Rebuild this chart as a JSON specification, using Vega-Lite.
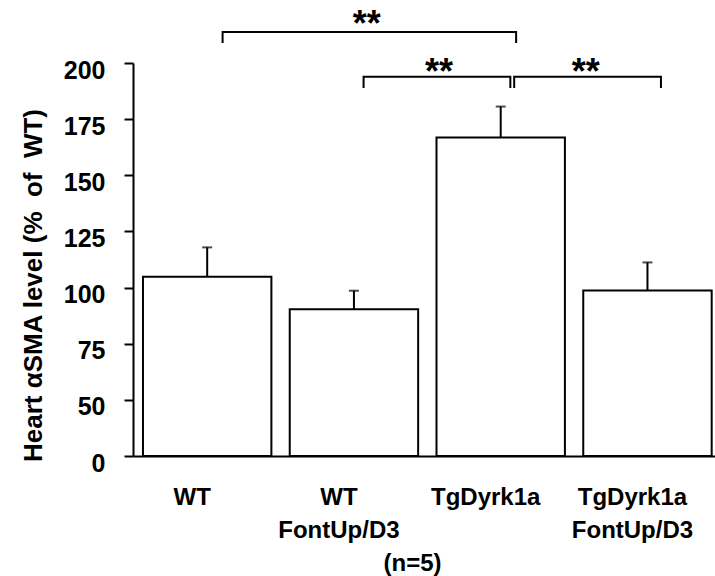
{
  "$schema": "https://vega.github.io/schema/vega-lite/v6.json",
  "autosize": {"type": "none"},
  "padding": {"left": 133, "top": 63, "right": 0, "bottom": 120},
  "width": 582,
  "height": 393,
  "background": "white",
  "config": {
    "view": {"stroke": null},
    "font": "Liberation Sans",
    "axis": {"labelFont": "Liberation Sans", "titleFont": "Liberation Sans"}
  },
  "datasets": {
    "bars": [
      {"group": "WT", "value": 104.8, "sem": 13.1},
      {"group": "WT FontUp/D3", "value": 90.4, "sem": 8.2},
      {"group": "TgDyrk1a", "value": 166.8, "sem": 13.8},
      {"group": "TgDyrk1a FontUp/D3", "value": 98.7, "sem": 12.5}
    ],
    "brackets": [
      {"b": "b1", "group": "WT", "y": 208.9, "o": 1},
      {"b": "b1", "group": "WT", "y": 213.8, "o": 2},
      {"b": "b1", "group": "TgDyrk1a", "y": 213.8, "o": 3},
      {"b": "b1", "group": "TgDyrk1a", "y": 208.9, "o": 4},
      {"b": "b2", "group": "WT FontUp/D3", "y": 188.9, "o": 1},
      {"b": "b2", "group": "WT FontUp/D3", "y": 193.9, "o": 2},
      {"b": "b2", "group": "TgDyrk1a", "y": 193.9, "o": 3},
      {"b": "b2", "group": "TgDyrk1a", "y": 188.9, "o": 4},
      {"b": "b3", "group": "TgDyrk1a", "y": 188.9, "o": 1},
      {"b": "b3", "group": "TgDyrk1a", "y": 193.9, "o": 2},
      {"b": "b3", "group": "TgDyrk1a FontUp/D3", "y": 193.9, "o": 3},
      {"b": "b3", "group": "TgDyrk1a FontUp/D3", "y": 188.9, "o": 4}
    ],
    "stars": [
      {"b": "b1", "group": "WT FontUp/D3", "y": 219.8, "label": "**"},
      {"b": "b2", "group": "TgDyrk1a", "y": 198.7, "label": "**"},
      {"b": "b3", "group": "TgDyrk1a FontUp/D3", "y": 198.7, "label": "**"}
    ]
  },
  "encoding": {
    "x": {
      "field": "group",
      "type": "nominal",
      "sort": ["WT", "WT FontUp/D3", "TgDyrk1a", "TgDyrk1a FontUp/D3"],
      "scale": {"paddingInner": 0.125, "paddingOuter": 0.0453, "align": 0.75},
      "axis": {
        "title": "(n=5)",
        "titleFontSize": 24,
        "titleFontWeight": "bold",
        "titleColor": "black",
        "titleX": 279,
        "titleY": 107,
        "titleBaseline": "middle",
        "titleAlign": "center",
        "labelExpr": "split(datum.label, ' ')",
        "labelAngle": 0,
        "labelFontSize": 24,
        "labelFontWeight": "bold",
        "labelColor": "black",
        "labelLineHeight": 33,
        "labelPadding": 29,
        "labelOffset": -15,
        "labelBaseline": "top",
        "labelOverlap": false,
        "ticks": false,
        "domainColor": "black",
        "domainWidth": 2
      }
    }
  },
  "layer": [
    {
      "data": {"name": "bars"},
      "mark": {
        "type": "errorbar",
        "color": "black",
        "ticks": {"size": 10, "thickness": 2, "color": "black"},
        "rule": {"strokeWidth": 2, "color": "black"}
      },
      "encoding": {
        "y": {
          "field": "value",
          "type": "quantitative",
          "scale": {"domain": [25, 200], "zero": false, "nice": false},
          "axis": {
            "title": "Heart αSMA level (% \u00a0of \u00a0WT)",
            "titleFontSize": 26,
            "titleFontWeight": "bold",
            "titleColor": "black",
            "titleX": -100,
            "titleY": 222,
            "titleAngle": -90,
            "titleAlign": "center",
            "titleBaseline": "middle",
            "values": [25, 50, 75, 100, 125, 150, 175, 200],
            "labelExpr": "datum.value == 25 ? '0' : datum.label",
            "labelFontSize": 25,
            "labelFontWeight": "bold",
            "labelColor": "black",
            "labelPadding": 19,
            "labelOffset": 7,
            "tickSize": 9,
            "tickWidth": 2,
            "tickColor": "black",
            "domainColor": "black",
            "domainWidth": 2,
            "grid": false
          }
        },
        "yError": {"field": "sem"}
      }
    },
    {
      "data": {"name": "bars"},
      "mark": {"type": "bar", "fill": "white", "stroke": "black", "strokeWidth": 2},
      "encoding": {
        "y": {"field": "value", "type": "quantitative"},
        "y2": {"datum": 25}
      }
    },
    {
      "data": {"name": "brackets"},
      "transform": [{"filter": "datum.b == 'b1'"}],
      "mark": {"type": "line", "color": "black", "strokeWidth": 2},
      "encoding": {
        "x": {"field": "group", "type": "nominal", "bandPosition": 0.62, "sort": ["WT", "WT FontUp/D3", "TgDyrk1a", "TgDyrk1a FontUp/D3"]},
        "y": {"field": "y", "type": "quantitative"},
        "order": {"field": "o"}
      }
    },
    {
      "data": {"name": "brackets"},
      "transform": [{"filter": "datum.b == 'b2'"}],
      "mark": {"type": "line", "color": "black", "strokeWidth": 2},
      "encoding": {
        "x": {"field": "group", "type": "nominal", "bandPosition": 0.575, "sort": ["WT", "WT FontUp/D3", "TgDyrk1a", "TgDyrk1a FontUp/D3"]},
        "y": {"field": "y", "type": "quantitative"},
        "order": {"field": "o"}
      }
    },
    {
      "data": {"name": "brackets"},
      "transform": [{"filter": "datum.b == 'b3'"}],
      "mark": {"type": "line", "color": "black", "strokeWidth": 2},
      "encoding": {
        "x": {"field": "group", "type": "nominal", "bandPosition": 0.605, "sort": ["WT", "WT FontUp/D3", "TgDyrk1a", "TgDyrk1a FontUp/D3"]},
        "y": {"field": "y", "type": "quantitative"},
        "order": {"field": "o"}
      }
    },
    {
      "data": {"name": "stars"},
      "transform": [{"filter": "datum.b == 'b1'"}],
      "mark": {"type": "text", "fontSize": 36, "fontWeight": "bold", "color": "black", "baseline": "middle", "dy": 6},
      "encoding": {
        "x": {"field": "group", "type": "nominal", "bandPosition": 0.6, "sort": ["WT", "WT FontUp/D3", "TgDyrk1a", "TgDyrk1a FontUp/D3"]},
        "y": {"field": "y", "type": "quantitative"},
        "text": {"field": "label"}
      }
    },
    {
      "data": {"name": "stars"},
      "transform": [{"filter": "datum.b != 'b1'"}],
      "mark": {"type": "text", "fontSize": 36, "fontWeight": "bold", "color": "black", "baseline": "middle", "dy": 7},
      "encoding": {
        "x": {"field": "group", "type": "nominal", "bandPosition": 0.02, "sort": ["WT", "WT FontUp/D3", "TgDyrk1a", "TgDyrk1a FontUp/D3"]},
        "y": {"field": "y", "type": "quantitative"},
        "text": {"field": "label"}
      }
    }
  ]
}
